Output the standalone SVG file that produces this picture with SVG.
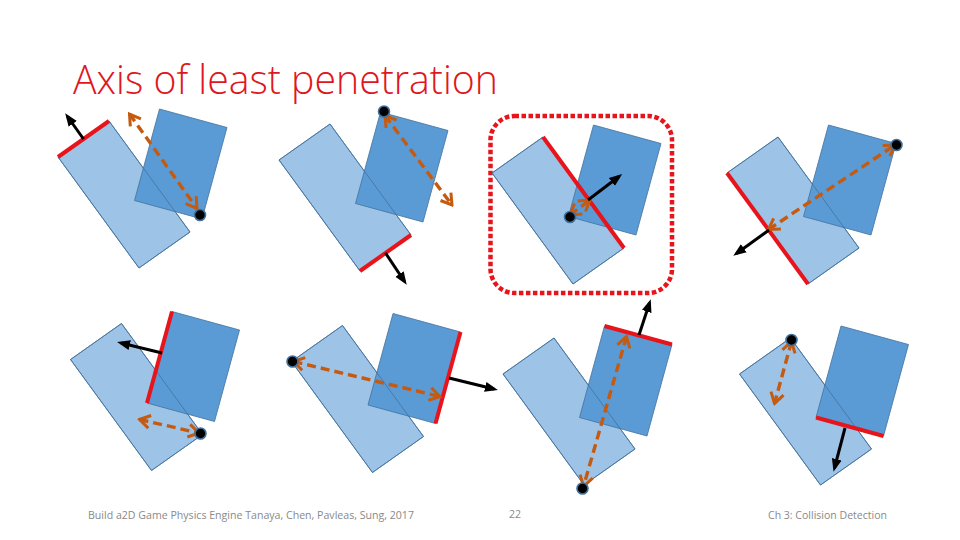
<svg xmlns="http://www.w3.org/2000/svg" xmlns:xlink="http://www.w3.org/1999/xlink" width="960" height="540" viewBox="0 0 960 540">
  <style>
    .lt { fill: #9DC3E6; stroke: #41719C; stroke-width: 0.8; }
    .dk { fill: #5B9BD5; stroke: #41719C; stroke-width: 0.8; }
    .lo { fill: none; stroke: #41719C; stroke-width: 0.8; }
    .edge { stroke: #E8141B; stroke-width: 4; fill: none; }
    .nrm { stroke: #000; stroke-width: 3; fill: none; marker-end: url(#blackHead); }
    .pen { stroke: #C55A11; stroke-width: 3.4; fill: none; stroke-dasharray: 9 5; marker-start: url(#orangeHead); marker-end: url(#orangeHead); }
    .dot { fill: #000; stroke: #41719C; stroke-width: 1.6; }
    .title { font-family: "Open Sans", "Liberation Sans", Arial, sans-serif; font-weight: 300; font-size: 40px; fill: #E0161E; }
    .foot { font-family: "Open Sans", "Liberation Sans", Arial, sans-serif; font-weight: 400; font-size: 10.5px; fill: #898989; }
  </style>
  <defs>
    <polygon id="light" points="58,157 109,121 190,232 139,268"/>
    <polygon id="dark" points="159.5,109 227,127.5 202,219 134.5,200.5"/>
    <marker id="blackHead" markerUnits="userSpaceOnUse" viewBox="-9 -6 13 12" refX="0" refY="0" markerWidth="13" markerHeight="12" orient="auto">
      <path d="M-9,-5 L4,0 L-9,5 z" fill="#000"/>
    </marker>
    <marker id="orangeHead" markerUnits="userSpaceOnUse" viewBox="-14 -9 16 18" refX="0" refY="0" markerWidth="16" markerHeight="18" orient="auto-start-reverse">
      <path d="M-10.5,-6.5 L0,0 L-10.5,6.5" fill="none" stroke="#C55A11" stroke-width="3"/>
    </marker>
  </defs>

  <text class="title" x="73" y="94" textLength="425" lengthAdjust="spacingAndGlyphs">Axis of least penetration</text>

  <g id="panel-1">
    <use href="#light" class="lt"/>
    <use href="#dark" class="dk"/>
    <use href="#light" class="lo"/>
  </g>
  <g id="panel-2">
    <use href="#light" class="lt" transform="translate(221,3)"/>
    <use href="#dark" class="dk" transform="translate(221,3)"/>
    <use href="#light" class="lo" transform="translate(221,3)"/>
  </g>
  <g id="panel-3">
    <rect x="490.5" y="116" width="181.5" height="177" rx="24" ry="24" fill="none" stroke="#E8141B" stroke-width="4.5" stroke-dasharray="4.5 2.5"/>
    <use href="#light" class="lt" transform="translate(434,16)"/>
    <use href="#dark" class="dk" transform="translate(434,16)"/>
    <use href="#light" class="lo" transform="translate(434,16)"/>
  </g>
  <g id="panel-4">
    <use href="#light" class="lt" transform="translate(669,16)"/>
    <use href="#dark" class="dk" transform="translate(669,16)"/>
    <use href="#light" class="lo" transform="translate(669,16)"/>
  </g>
  <g id="panel-5">
    <use href="#light" class="lt" transform="translate(12.5,202.5)"/>
    <use href="#dark" class="dk" transform="translate(12.5,202.5)"/>
    <use href="#light" class="lo" transform="translate(12.5,202.5)"/>
  </g>
  <g id="panel-6">
    <use href="#light" class="lt" transform="translate(233.5,204.5)"/>
    <use href="#dark" class="dk" transform="translate(233.5,204.5)"/>
    <use href="#light" class="lo" transform="translate(233.5,204.5)"/>
  </g>
  <g id="panel-7">
    <use href="#light" class="lt" transform="translate(445,217)"/>
    <use href="#dark" class="dk" transform="translate(445,217)"/>
    <use href="#light" class="lo" transform="translate(445,217)"/>
  </g>
  <g id="panel-8">
    <use href="#light" class="lt" transform="translate(681.5,217)"/>
    <use href="#dark" class="dk" transform="translate(681.5,217)"/>
    <use href="#light" class="lo" transform="translate(681.5,217)"/>
  </g>

  <g id="edges">
    <line class="edge" x1="58" y1="157" x2="109" y2="121"/>
    <line class="edge" x1="360" y1="271" x2="411" y2="235"/>
    <line class="edge" x1="543" y1="137" x2="624" y2="248"/>
    <line class="edge" x1="727" y1="173" x2="808" y2="284"/>
    <line class="edge" x1="172" y1="311.5" x2="147" y2="403"/>
    <line class="edge" x1="460.5" y1="332" x2="435.5" y2="423.5"/>
    <line class="edge" x1="604.5" y1="326" x2="672" y2="344.5"/>
    <line class="edge" x1="816" y1="417.5" x2="883.5" y2="436"/>
  </g>

  <g id="connectors">
    <line class="pen" x1="129.5" y1="114" x2="197" y2="208.5"/>
    <line class="pen" x1="385" y1="115.5" x2="452" y2="205"/>
    <line class="pen" x1="570" y1="215" x2="590" y2="200"/>
    <line class="pen" x1="768.5" y1="229.5" x2="895" y2="145"/>
    <line class="pen" x1="139.5" y1="419.5" x2="199" y2="433"/>
    <line class="pen" x1="293.5" y1="361.5" x2="440" y2="396.5"/>
    <line class="pen" x1="626.5" y1="336.5" x2="583.5" y2="486.5"/>
    <line class="pen" x1="791.5" y1="341.5" x2="774.5" y2="403.5"/>

    <line class="nrm" x1="83.5" y1="139" x2="67.5" y2="116.5"/>
    <line class="nrm" x1="385.5" y1="253" x2="404.5" y2="281.5"/>
    <line class="nrm" x1="588" y1="200" x2="619" y2="176.5"/>
    <line class="nrm" x1="769" y1="230" x2="736.5" y2="253.5"/>
    <line class="nrm" x1="162" y1="353" x2="121" y2="343"/>
    <line class="nrm" x1="449" y1="378" x2="494" y2="389"/>
    <line class="nrm" x1="639" y1="335" x2="649.5" y2="303"/>
    <line class="nrm" x1="845" y1="428" x2="834.5" y2="468"/>
  </g>

  <g id="points">
    <circle class="dot" cx="200" cy="215" r="5.5"/>
    <circle class="dot" cx="384" cy="111.5" r="5.5"/>
    <circle class="dot" cx="570" cy="217" r="5.5"/>
    <circle class="dot" cx="896.5" cy="145" r="5.5"/>
    <circle class="dot" cx="200.5" cy="433.5" r="5.5"/>
    <circle class="dot" cx="292.5" cy="361.5" r="5.5"/>
    <circle class="dot" cx="582.5" cy="488.5" r="5.5"/>
    <circle class="dot" cx="791.5" cy="340" r="5.5"/>
  </g>

  <g id="footer">
    <text class="foot" x="88" y="519" textLength="326" lengthAdjust="spacingAndGlyphs">Build a2D Game Physics Engine Tanaya, Chen, Pavleas, Sung, 2017</text>
    <text class="foot" x="509" y="518">22</text>
    <text class="foot" x="768" y="519" textLength="119" lengthAdjust="spacingAndGlyphs">Ch 3: Collision Detection</text>
  </g>
</svg>
